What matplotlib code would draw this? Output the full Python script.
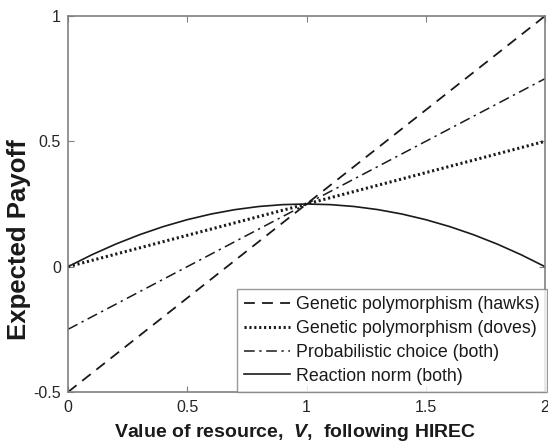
import matplotlib
matplotlib.use("Agg")
import matplotlib.pyplot as plt

plt.rcParams['font.family'] = ['Liberation Sans', 'DejaVu Sans']
plt.rcParams['mathtext.fontset'] = 'custom'
plt.rcParams['mathtext.it'] = 'Liberation Sans:italic:bold'
plt.rcParams['mathtext.rm'] = 'Liberation Sans:bold'

# Straight-line series (values read at V = 0, 1, 2)
v_lines = [0.0, 1.0, 2.0]
hawks = [-0.5, 0.25, 1.0]
doves = [0.0, 0.25, 0.5]
prob = [-0.25, 0.25, 0.75]

# Reaction norm curve, read at V = 0, 0.1, ..., 2
v_curve = [0.0, 0.1, 0.2, 0.3, 0.4, 0.5, 0.6, 0.7, 0.8, 0.9, 1.0,
           1.1, 1.2, 1.3, 1.4, 1.5, 1.6, 1.7, 1.8, 1.9, 2.0]
reaction = [0.0, 0.0475, 0.09, 0.1275, 0.16, 0.1875, 0.21, 0.2275, 0.24, 0.2475, 0.25,
            0.2475, 0.24, 0.2275, 0.21, 0.1875, 0.16, 0.1275, 0.09, 0.0475, 0.0]

labels = ["Genetic polymorphism (hawks)", "Genetic polymorphism (doves)",
          "Probabilistic choice (both)", "Reaction norm (both)"]
xticks = [0, 0.5, 1, 1.5, 2]
xticklabels = ["0", "0.5", "1", "1.5", "2"]
yticks = [-0.5, 0, 0.5, 1]
yticklabels = ["-0.5", "0", "0.5", "1"]

fig = plt.figure(figsize=(5.48, 4.46), dpi=100)
ax = fig.add_axes([68/548, 54/446, 477/548, 376/446])

lc = '#1a1a1a'
ax.plot(v_lines, hawks, color=lc, lw=1.3, linestyle=(0, (6, 4)), label=labels[0])
ax.plot(v_lines, doves, color=lc, lw=2.2, linestyle=(0, (0.7, 0.9)), label=labels[1])
ax.plot(v_lines, prob, color=lc, lw=1.1, linestyle=(0, (7, 3, 1.5, 3)), label=labels[2])
ax.plot(v_curve, reaction, color=lc, lw=1.2, linestyle='-', label=labels[3])

ax.set_xlim(0, 2)
ax.set_ylim(-0.5, 1)
ax.set_xticks(xticks)
ax.set_xticklabels(xticklabels)
ax.set_yticks(yticks)
ax.set_yticklabels(yticklabels)
ax.tick_params(direction='in', top=True, right=True, length=4, width=0.8,
               colors='#808080', labelcolor='#262626', labelsize=11.5)
ax.tick_params(axis='x', pad=6)
ax.tick_params(axis='y', pad=5)
for s in ax.spines.values():
    s.set_color('#808080')
    s.set_linewidth(1.2)

ax.set_xlabel("Value of resource,  $V$,  following HIREC", fontsize=14,
              fontweight='bold', color='#1a1a1a')
ax.xaxis.set_label_coords(0.476, -0.08)
ax.set_ylabel("Expected Payoff", fontsize=18.5, fontweight='bold', color='#1a1a1a')
ax.yaxis.set_label_coords(-0.077, 0.405)

leg = ax.legend(loc='lower right', bbox_to_anchor=(547/548, 54/446),
                bbox_transform=fig.transFigure, fontsize=12.8,
                frameon=True, fancybox=False, handlelength=2.6, handletextpad=0.3,
                labelspacing=0.38, borderpad=0.42, borderaxespad=0)
leg.get_frame().set_edgecolor('#808080')
leg.get_frame().set_linewidth(1.0)
for t in leg.get_texts():
    t.set_color('#1a1a1a')

fig.savefig("out.png", dpi=100)
